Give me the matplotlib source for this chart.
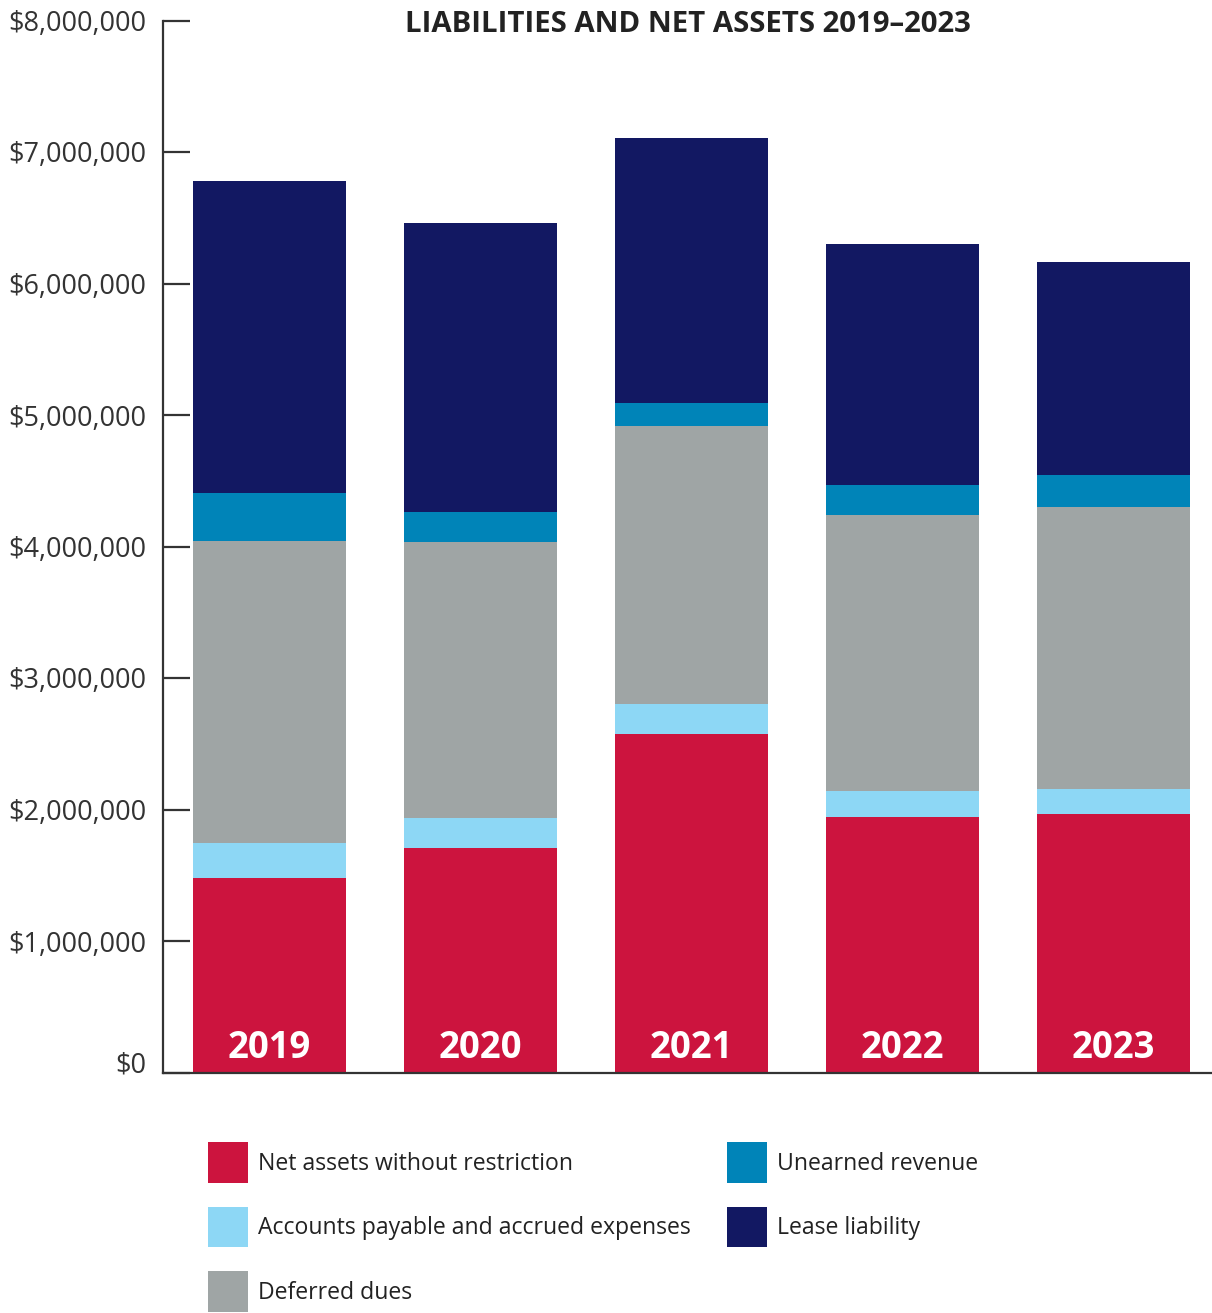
import numpy as np
import matplotlib
matplotlib.use('Agg')
import matplotlib.pyplot as plt
import matplotlib.transforms as mtransforms
from matplotlib.patches import Patch

plt.rcParams['font.family'] = ['Open Sans', 'DejaVu Sans']

years = ['2019', '2020', '2021', '2022', '2023']

# segment values in dollars, stacked bottom to top
net_assets = [1479000, 1707000, 2574000, 1943000, 1966000]
accounts_payable = [266000, 228000, 228000, 198000, 190000]
deferred_dues = [2296000, 2099000, 2111000, 2095000, 2141000]
unearned_revenue = [365000, 228000, 182000, 228000, 243000]
lease_liability = [2373000, 2198000, 2011000, 1833000, 1627000]

series_labels = ['Net assets without restriction', 'Accounts payable and accrued expenses',
                 'Deferred dues', 'Unearned revenue', 'Lease liability']
series_colors = ['#CC143E', '#8DD7F5', '#9FA5A5', '#0084B8', '#121862']

y_ticks = [0, 1000000, 2000000, 3000000, 4000000, 5000000, 6000000, 7000000, 8000000]

fig = plt.figure(figsize=(12.12, 13.13), dpi=100)
ax = fig.add_axes([163 / 1212, 1 - 1072.5 / 1313, 1 - 163 / 1212, (1072.5 - 20.5) / 1313])

x = np.arange(len(years))
bottom = np.zeros(len(years))
for vals, color, label in zip([net_assets, accounts_payable, deferred_dues, unearned_revenue, lease_liability],
                              series_colors, series_labels):
    ax.bar(x, vals, width=0.725, bottom=bottom, color=color, label=label, linewidth=0)
    bottom += np.array(vals)

# year labels inside the base of each bar
for xi, yr in zip(x, years):
    ax.text(xi, 185000, yr, ha='center', va='center', color='white',
            fontsize=26.3, fontweight='bold')

ax.set_xlim(-0.505, 4.467)
ax.set_ylim(0, 8000000)
ax.set_xticks([])
ax.set_yticks(y_ticks)
ax.set_yticklabels(['${:,.0f}'.format(v) for v in y_ticks])
ax.tick_params(axis='y', direction='in', length=19.5, width=1.6, color='#333333',
               pad=12, labelsize=19.5, labelcolor='#333333')

# nudge the $0 label up off the baseline
lab0 = ax.get_yticklabels()[0]
lab0.set_transform(lab0.get_transform() + mtransforms.ScaledTranslation(0, 10 / 100, fig.dpi_scale_trans))

for side in ['top', 'right']:
    ax.spines[side].set_visible(False)
ax.spines['left'].set_color('#333333')
ax.spines['bottom'].set_color('#333333')
ax.spines['left'].set_linewidth(1.6)
ax.spines['bottom'].set_linewidth(1.6)
ax.set_zorder(1)

fig.text(688 / 1212, 1 - 25 / 1313, 'LIABILITIES AND NET ASSETS 2019–2023', ha='center', va='center',
         fontsize=21.2, fontweight='bold', color='#222222')

handles = [Patch(facecolor=c, label=l) for c, l in zip(series_colors, series_labels)]
fig.legend(handles=handles, loc='upper left', bbox_to_anchor=(208 / 1212, 1 - 1142 / 1313),
           ncol=2, frameon=False, fontsize=16.6, handlelength=1.74, handleheight=2.35,
           handletextpad=0.43, labelspacing=1.03, columnspacing=1.58,
           borderpad=0, borderaxespad=0, labelcolor='#222222')

plt.savefig('out.png', dpi=100)
